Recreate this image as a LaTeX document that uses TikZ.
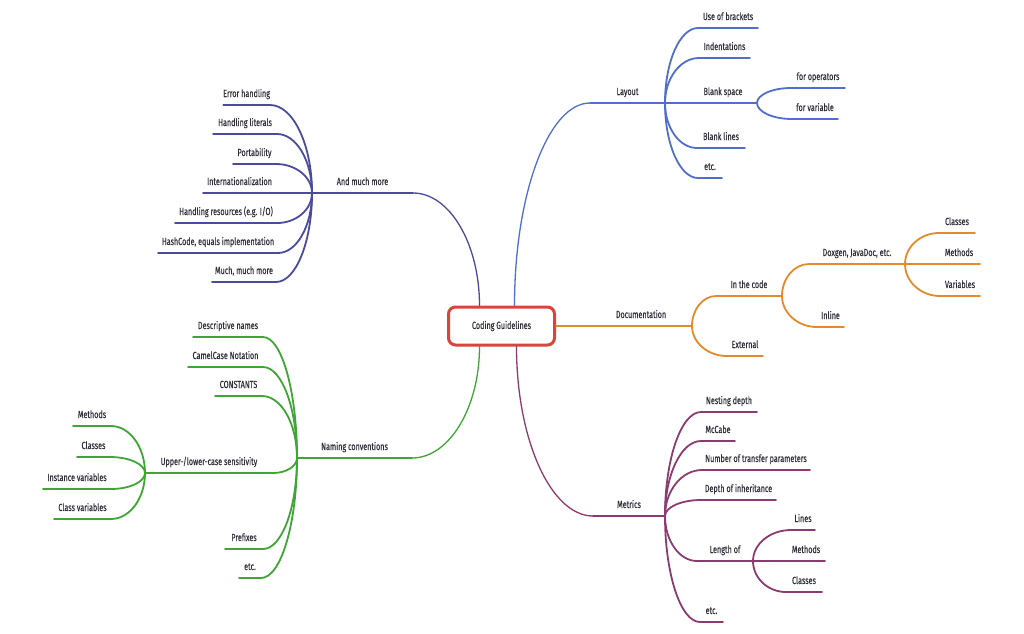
\documentclass[tikz,border=0pt]{standalone}
\usepackage{fontspec}
\setmainfont{Fira Sans}[FakeStretch=0.7, FakeBold=0.25]
\usetikzlibrary{calc}

\definecolor{layoutc}{HTML}{4F6FCB}
\definecolor{morec}{HTML}{4B4B9E}
\definecolor{docc}{HTML}{E38A2B}
\definecolor{namec}{HTML}{3FA535}
\definecolor{metricc}{HTML}{8C3B70}
\definecolor{rootc}{HTML}{D9453B}
\definecolor{textc}{HTML}{2E2E3A}

\tikzset{
  topic/.style={inner xsep=0pt, inner ysep=6pt, outer sep=0pt, text height=7pt, text depth=2pt, text=textc, font=\fontsize{10.3}{12}\selectfont},
  rt/.style={topic, anchor=south west, minimum width=#1},
  lt/.style={topic, anchor=south east, minimum width=#1},
  root/.style={draw=rootc, line width=3pt, rounded corners=7pt, fill=white, minimum width=106pt, minimum height=38pt, text=textc, font=\fontsize{10.3}{12}\selectfont},
  branch/.style={line width=1.8pt, line cap=round},
  trunk/.style={line width=1.3pt, line cap=round},
  fork/.style={to path={.. controls ($(\tikztostart)!0.55!(\tikztostart |- \tikztotarget)$) and ($(\tikztotarget)!0.55!(\tikztostart |- \tikztotarget)$) .. (\tikztotarget)}}
}

\begin{document}
\begin{tikzpicture}[x=1pt, y=-1pt]
\useasboundingbox (0,0) rectangle (1024,633);

\node[root] (root) at (501.5,326) {Coding Guidelines};
\coordinate (root-lay) at ($(root.north)+(13,0)$);
\coordinate (root-more) at ($(root.north)+(-22,0)$);
\coordinate (root-name) at ($(root.south)+(-22,0)$);
\coordinate (root-met) at ($(root.south)+(15,0)$);

% Layout
\node[rt=75] (layout) at (590,103) {Layout};
\node[rt=60] (brackets) at (698,28) {Use of brackets};
\node[rt=51] (indent) at (699,58) {Indentations};
\node[rt=68] (blank) at (689,103) {Blank space};
\node[rt=54] (operators) at (791,88) {for operators};
\node[rt=46] (variable) at (792,119) {for variable};
\node[rt=48] (blanklines) at (697,148) {Blank lines};
\node[rt=24] (layetc) at (698,178) {etc.};

\draw[trunk, layoutc] (root-lay) to[fork] (layout.south west);
\draw[branch, layoutc] (layout.south west) -- (layout.south east);
\draw[branch, layoutc] (layout.south east) to[fork] (brackets.south west) -- (brackets.south east);
\draw[branch, layoutc] (layout.south east) to[fork] (indent.south west) -- (indent.south east);
\draw[branch, layoutc] (layout.south east) to[fork] (blank.south west) -- (blank.south east);
\draw[branch, layoutc] (blank.south east) to[fork] (operators.south west) -- (operators.south east);
\draw[branch, layoutc] (blank.south east) to[fork] (variable.south west) -- (variable.south east);
\draw[branch, layoutc] (layout.south east) to[fork] (blanklines.south west) -- (blanklines.south east);
\draw[branch, layoutc] (layout.south east) to[fork] (layetc.south west) -- (layetc.south east);

% Documentation
\node[rt=102] (doc) at (590,326) {Documentation};
\node[rt=66] (incode) at (716,296) {In the code};
\node[rt=96] (doxygen) at (809,264) {Doxgen, JavaDoc, etc.};
\node[rt=36] (classes) at (939,233) {Classes};
\node[rt=42] (methods) at (938,264) {Methods};
\node[rt=40] (variables) at (940,296) {Variables};
\node[rt=27] (inline) at (817,327) {Inline};
\node[rt=36] (external) at (727,356) {External};

\draw[trunk, docc] (root.east) -- (doc.south west);
\draw[branch, docc] (doc.south west) -- (doc.south east);
\draw[branch, docc] (doc.south east) to[fork] (incode.south west) -- (incode.south east);
\draw[branch, docc] (incode.south east) to[fork] (doxygen.south west) -- (doxygen.south east);
\draw[branch, docc] (doxygen.south east) to[fork] (classes.south west) -- (classes.south east);
\draw[branch, docc] (doxygen.south east) to[fork] (methods.south west) -- (methods.south east);
\draw[branch, docc] (doxygen.south east) to[fork] (variables.south west) -- (variables.south east);
\draw[branch, docc] (incode.south east) to[fork] (inline.south west) -- (inline.south east);
\draw[branch, docc] (doc.south east) to[fork] (external.south west) -- (external.south east);

% Metrics
\node[rt=72] (metrics) at (593,516) {Metrics};
\node[rt=56] (nesting) at (701,412) {Nesting depth};
\node[rt=34] (mccabe) at (701,441) {McCabe};
\node[rt=108] (transfer) at (702,470) {Number of transfer parameters};
\node[rt=75] (inherit) at (701,500) {Depth of inheritance};
\node[rt=56] (lengthof) at (697,561) {Length of};
\node[rt=24] (lines) at (791,530) {Lines};
\node[rt=38] (lmethods) at (787,561) {Methods};
\node[rt=36] (lclasses) at (786,592) {Classes};
\node[rt=23] (metetc) at (700,622) {etc.};

\draw[trunk, metricc] (root-met) to[fork] (metrics.south west);
\draw[branch, metricc] (metrics.south west) -- (metrics.south east);
\draw[branch, metricc] (metrics.south east) to[fork] (nesting.south west) -- (nesting.south east);
\draw[branch, metricc] (metrics.south east) to[fork] (mccabe.south west) -- (mccabe.south east);
\draw[branch, metricc] (metrics.south east) to[fork] (transfer.south west) -- (transfer.south east);
\draw[branch, metricc] (metrics.south east) to[fork] (inherit.south west) -- (inherit.south east);
\draw[branch, metricc] (metrics.south east) to[fork] (lengthof.south west) -- (lengthof.south east);
\draw[branch, metricc] (lengthof.south east) to[fork] (lines.south west) -- (lines.south east);
\draw[branch, metricc] (lengthof.south east) to[fork] (lmethods.south west) -- (lmethods.south east);
\draw[branch, metricc] (lengthof.south east) to[fork] (lclasses.south west) -- (lclasses.south east);
\draw[branch, metricc] (metrics.south east) to[fork] (metetc.south west) -- (metetc.south east);

% And much more
\node[lt=101] (more) at (413,193) {And much more};
\node[lt=42] (error) at (270,105) {Error handling};
\node[lt=64] (literals) at (277,134) {Handling literals};
\node[lt=43] (portab) at (276,164) {Portability};
\node[lt=73] (intl) at (276,193) {Internationalization};
\node[lt=102] (resources) at (277,223) {Handling resources (e.g. I/O)};
\node[lt=120] (hashcode) at (278,253) {HashCode, equals implementation};
\node[lt=64] (muchmore) at (276,282) {Much, much more};

\draw[trunk, morec] (root-more) to[fork] (more.south east);
\draw[branch, morec] (more.south east) -- (more.south west);
\draw[branch, morec] (more.south west) to[fork] (error.south east) -- (error.south west);
\draw[branch, morec] (more.south west) to[fork] (literals.south east) -- (literals.south west);
\draw[branch, morec] (more.south west) to[fork] (portab.south east) -- (portab.south west);
\draw[branch, morec] (more.south west) to[fork] (intl.south east) -- (intl.south west);
\draw[branch, morec] (more.south west) to[fork] (resources.south east) -- (resources.south west);
\draw[branch, morec] (more.south west) to[fork] (hashcode.south east) -- (hashcode.south west);
\draw[branch, morec] (more.south west) to[fork] (muchmore.south east) -- (muchmore.south west);

% Naming conventions
\node[lt=115] (naming) at (412,458) {Naming conventions};
\node[lt=70] (descr) at (263,337) {Descriptive names};
\node[lt=75] (camel) at (263,367) {CamelCase Notation};
\node[lt=47] (constants) at (262,396) {CONSTANTS};
\node[lt=128] (upper) at (273,473) {Upper-/lower-case sensitivity};
\node[lt=38] (umethods) at (111,426) {Methods};
\node[lt=33] (uclasses) at (110,457) {Classes};
\node[lt=68] (instance) at (111,489) {Instance variables};
\node[lt=57] (classvars) at (111,519) {Class variables};
\node[lt=38] (prefixes) at (263,549) {Prefixes};
\node[lt=22] (nametc) at (261,578) {etc.};

\draw[trunk, namec] (root-name) to[fork] (naming.south east);
\draw[branch, namec] (naming.south east) -- (naming.south west);
\draw[branch, namec] (naming.south west) to[fork] (descr.south east) -- (descr.south west);
\draw[branch, namec] (naming.south west) to[fork] (camel.south east) -- (camel.south west);
\draw[branch, namec] (naming.south west) to[fork] (constants.south east) -- (constants.south west);
\draw[branch, namec] (naming.south west) to[fork] (upper.south east) -- (upper.south west);
\draw[branch, namec] (upper.south west) to[fork] (umethods.south east) -- (umethods.south west);
\draw[branch, namec] (upper.south west) to[fork] (uclasses.south east) -- (uclasses.south west);
\draw[branch, namec] (upper.south west) to[fork] (instance.south east) -- (instance.south west);
\draw[branch, namec] (upper.south west) to[fork] (classvars.south east) -- (classvars.south west);
\draw[branch, namec] (naming.south west) to[fork] (prefixes.south east) -- (prefixes.south west);
\draw[branch, namec] (naming.south west) to[fork] (nametc.south east) -- (nametc.south west);
\end{tikzpicture}
\end{document}
